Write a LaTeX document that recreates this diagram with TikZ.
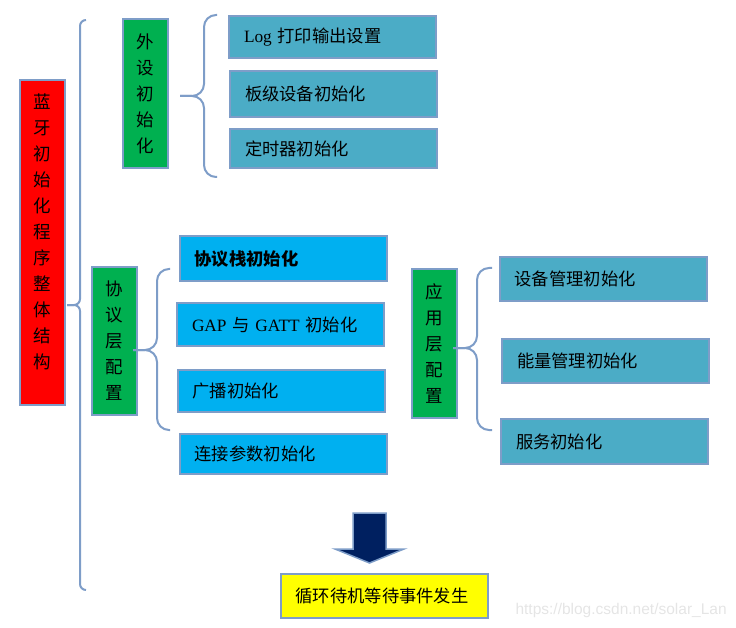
\documentclass[tikz,border=0pt]{standalone}
\usepackage{fontspec}
\setmainfont{Noto Sans CJK SC}
\newfontfamily\latin{Liberation Serif}
\newfontfamily\filigrane{Liberation Sans}
\definecolor{rouge}{RGB}{255,0,0}
\definecolor{vert}{RGB}{0,176,80}
\definecolor{turquoise}{RGB}{75,172,198}
\definecolor{ciel}{RGB}{0,176,240}
\definecolor{jaune}{RGB}{255,255,0}
\definecolor{marine}{RGB}{0,32,96}
\definecolor{bordure}{RGB}{126,157,200}
% accolade : pointe, creux, bout haut, bout bas
\newcommand{\accolade}[5][12pt]{\draw[accol=#1] (#4) -| (#3) -- (#2);
	\draw[accol=#1] (#2) -- (#3) |- (#5)}

\begin{document}
\begin{tikzpicture}[x=1pt,y=-1pt,
	cadre/.style={draw=bordure,line width=2pt,inner sep=0pt},
	colonne/.style={cadre,fill=#1,minimum width=45pt,align=center,
		font=\fontsize{17.5}{26}\selectfont},
	etape/.style={cadre,fill=#1,minimum height=44pt,text width=177pt,
		inner xsep=15pt,align=left,font=\fontsize{17.3}{20}\selectfont},
	accol/.style={draw=bordure,line width=2pt,rounded corners=#1}]
	\useasboundingbox (0,0) rectangle (736,628);
	\node[colonne=rouge,minimum height=325pt] (racine) at (42.5,242.5)
		{蓝\\牙\\初\\始\\化\\程\\序\\整\\体\\结\\构\\[-3pt]~};
	\node[colonne=vert,minimum height=149pt] (periph) at (145.5,93.5) {外\\设\\初\\始\\化};
	\node[colonne=vert,minimum height=148pt] (proto) at (114.5,341) {协\\议\\层\\配\\置};
	\node[colonne=vert,minimum height=149pt] (appli) at (434,343.5) {应\\用\\层\\配\\置};
	\node[etape=turquoise,minimum height=42pt] (log) at (332.5,37) {{\latin Log }打印输出设置};
	\node[etape=turquoise,minimum height=46pt] (carte) at (333.5,94) {板级设备初始化};
	\node[etape=turquoise,minimum height=39pt] (minuterie) at (333.5,148.5) {定时器初始化};
	\node[etape=ciel,minimum height=45pt] (pile) at (283,258.5) {\bfseries 协议栈初始化};
	\node[etape=ciel,minimum height=43pt] (gap) at (280.5,324.5) {{\latin GAP }与{\latin{} GATT }初始化};
	\node[etape=ciel,minimum height=42pt] (diffusion) at (281,391) {广播初始化};
	\node[etape=ciel,minimum height=40pt] (connexion) at (283,454) {连接参数初始化};
	\node[etape=turquoise] (gestion) at (603,279) {设备管理初始化};
	\node[etape=turquoise] (energie) at (605.5,361) {能量管理初始化};
	\node[etape=turquoise,minimum height=45pt] (service) at (604.5,441.5) {服务初始化};
	\node[etape=jaune] (boucle) at (384,596) {循环待机等待事件发生};
	\node[font=\filigrane\fontsize{15.5}{15.5}\selectfont,text=black!10,anchor=west] (url)
		at (512,610) {https://blog.csdn.net/solar\_Lan};
	\coordinate (p0) at (67,305); \coordinate (c0) at (80,305);
	\coordinate (h0) at (86,20); \coordinate (b0) at (86,590);
	\coordinate (p1) at (180,96); \coordinate (c1) at (204,96);
	\coordinate (h1) at (217,15); \coordinate (b1) at (217,177);
	\coordinate (p2) at (133,350); \coordinate (c2) at (157,350);
	\coordinate (h2) at (170,269); \coordinate (b2) at (170,430);
	\coordinate (p3) at (453,348); \coordinate (c3) at (477,348);
	\coordinate (h3) at (492,268); \coordinate (b3) at (492,430);
	\accolade[6pt]{p0}{c0}{h0}{b0};
	\accolade{p1}{c1}{h1}{b1};
	\accolade{p2}{c2}{h2}{b2};
	\accolade{p3}{c3}{h3}{b3};
	\draw[fill=marine,draw=bordure,line width=1.5pt] (353,513) -- (386,513) -- (386,549)
		-- (404,549) -- (369.5,563) -- (335,549) -- (353,549) -- cycle;
\end{tikzpicture}
\end{document}
